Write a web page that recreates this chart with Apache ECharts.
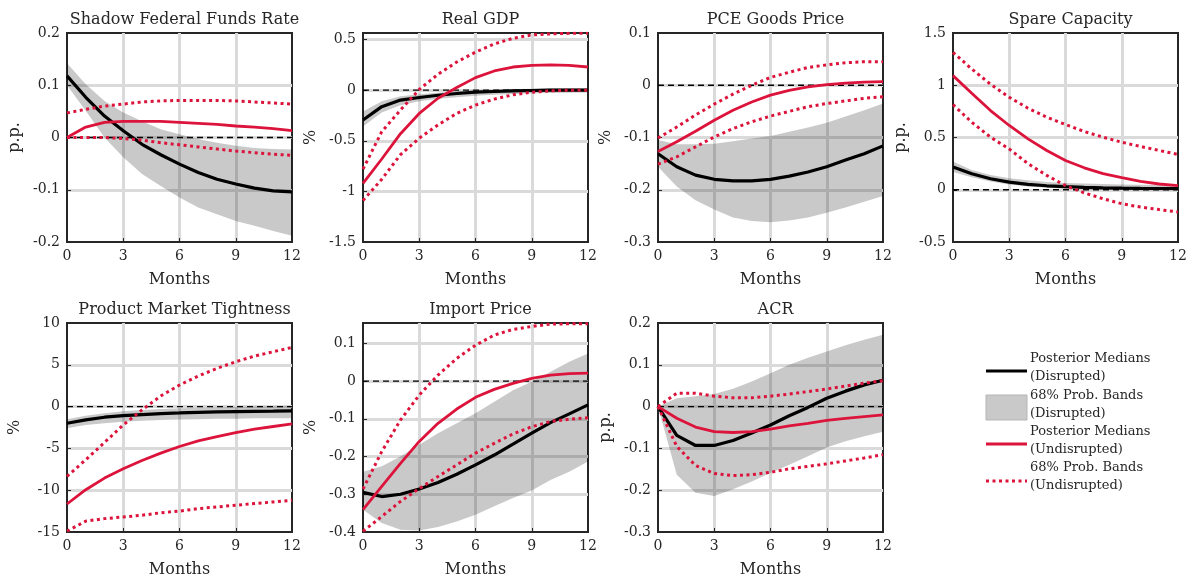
<!DOCTYPE html>
<html><head><meta charset="utf-8">
<script src="https://cdn.jsdelivr.net/npm/echarts@6/dist/echarts.min.js"></script>
<style>html,body{margin:0;padding:0;background:#fff}#c{width:1191px;height:582px}</style>
</head><body><div id="c"></div>
<script>
const months = [0,1,2,3,4,5,6,7,8,9,10,11,12];
const zeroLine = [0,0,0,0,0,0,0,0,0,0,0,0,0];

// Shadow Federal Funds Rate
const ffrDisMed = [0.118,0.077,0.041,0.013,-0.013,-0.033,-0.051,-0.067,-0.080,-0.089,-0.097,-0.102,-0.104];
const ffrDisHi  = [0.142,0.102,0.070,0.048,0.031,0.016,0.006,-0.003,-0.010,-0.016,-0.020,-0.022,-0.023];
const ffrDisLo  = [0.100,0.051,0.000,-0.038,-0.070,-0.093,-0.115,-0.134,-0.147,-0.160,-0.169,-0.179,-0.188];
const ffrUndMed = [0.000,0.020,0.029,0.031,0.031,0.031,0.029,0.027,0.025,0.022,0.020,0.017,0.013];
const ffrUndHi  = [0.047,0.054,0.060,0.064,0.068,0.070,0.071,0.071,0.071,0.070,0.068,0.066,0.064];
const ffrUndLo  = [0.000,0.000,0.000,-0.002,-0.005,-0.010,-0.014,-0.018,-0.022,-0.026,-0.029,-0.032,-0.034];

// Real GDP
const gdpDisMed = [-0.294,-0.163,-0.098,-0.072,-0.050,-0.033,-0.020,-0.013,-0.007,-0.003,0.000,0.000,0.000];
const gdpDisHi  = [-0.21,-0.11,-0.06,-0.04,-0.025,-0.01,0.0,0.005,0.010,0.015,0.018,0.020,0.020];
const gdpDisLo  = [-0.36,-0.22,-0.15,-0.11,-0.085,-0.07,-0.055,-0.045,-0.037,-0.030,-0.027,-0.025,-0.023];
const gdpUndMed = [-0.92,-0.68,-0.43,-0.23,-0.08,0.026,0.124,0.19,0.229,0.245,0.25,0.245,0.229];
const gdpUndHi  = [-0.78,-0.41,-0.196,0.007,0.157,0.278,0.376,0.457,0.513,0.546,0.556,0.562,0.562];
const gdpUndLo  = [-1.09,-0.88,-0.637,-0.474,-0.343,-0.229,-0.147,-0.088,-0.046,-0.020,-0.007,0.0,0.0];

// PCE Goods Price
const pceDisMed = [-0.131,-0.156,-0.172,-0.180,-0.183,-0.183,-0.180,-0.174,-0.166,-0.156,-0.143,-0.131,-0.116];
const pceDisHi  = [-0.105,-0.113,-0.113,-0.112,-0.107,-0.102,-0.097,-0.089,-0.081,-0.072,-0.060,-0.048,-0.035];
const pceDisLo  = [-0.156,-0.194,-0.220,-0.238,-0.253,-0.260,-0.262,-0.259,-0.253,-0.244,-0.234,-0.223,-0.212];
const pceUndMed = [-0.127,-0.108,-0.088,-0.067,-0.048,-0.032,-0.019,-0.010,-0.003,0.001,0.004,0.006,0.007];
const pceUndHi  = [-0.101,-0.080,-0.057,-0.036,-0.017,0.000,0.015,0.025,0.034,0.039,0.043,0.045,0.045];
const pceUndLo  = [-0.151,-0.137,-0.118,-0.099,-0.083,-0.070,-0.059,-0.050,-0.041,-0.035,-0.030,-0.025,-0.022];

// Spare Capacity
const spcDisMed = [0.217,0.153,0.105,0.073,0.051,0.038,0.029,0.022,0.018,0.015,0.013,0.012,0.012];
const spcDisHi  = [0.27,0.19,0.14,0.11,0.09,0.075,0.065,0.06,0.055,0.05,0.048,0.045,0.045];
const spcDisLo  = [0.17,0.12,0.08,0.05,0.03,0.02,0.01,0.005,0.0,-0.003,-0.005,-0.006,-0.007];
const spcUndMed = [1.092,0.924,0.758,0.615,0.487,0.376,0.280,0.21,0.155,0.115,0.08,0.055,0.04];
const spcUndHi  = [1.315,1.156,1.01,0.885,0.78,0.694,0.624,0.557,0.503,0.455,0.414,0.376,0.338];
const spcUndLo  = [0.815,0.646,0.503,0.39,0.25,0.137,0.04,-0.03,-0.086,-0.134,-0.166,-0.19,-0.213];

// Product Market Tightness
const pmtDisMed = [-1.99,-1.59,-1.27,-1.07,-0.95,-0.83,-0.76,-0.68,-0.64,-0.60,-0.56,-0.55,-0.52];
const pmtDisHi  = [-1.5,-1.1,-0.8,-0.55,-0.4,-0.3,-0.2,-0.15,-0.1,-0.05,0.0,0.05,0.1];
const pmtDisLo  = [-2.6,-2.2,-2.0,-1.8,-1.7,-1.6,-1.55,-1.5,-1.45,-1.45,-1.4,-1.4,-1.4];
const pmtUndMed = [-11.65,-9.94,-8.55,-7.43,-6.44,-5.56,-4.77,-4.09,-3.58,-3.10,-2.70,-2.38,-2.07];
const pmtUndHi  = [-8.35,-6.36,-4.29,-2.19,-0.40,1.27,2.58,3.66,4.57,5.37,6.04,6.56,7.08];
const pmtUndLo  = [-14.9,-13.7,-13.4,-13.2,-13.0,-12.7,-12.5,-12.2,-12.0,-11.8,-11.6,-11.4,-11.2];

// Import Price
const impDisMed = [-0.295,-0.306,-0.300,-0.286,-0.269,-0.247,-0.222,-0.196,-0.167,-0.138,-0.110,-0.087,-0.063];
const impDisHi  = [-0.24,-0.226,-0.200,-0.169,-0.138,-0.112,-0.085,-0.055,-0.024,-0.002,0.025,0.051,0.073];
const impDisLo  = [-0.341,-0.376,-0.394,-0.396,-0.387,-0.372,-0.354,-0.332,-0.310,-0.290,-0.262,-0.240,-0.213];
const impUndMed = [-0.341,-0.279,-0.218,-0.160,-0.112,-0.074,-0.043,-0.022,-0.006,0.007,0.016,0.020,0.021];
const impUndHi  = [-0.286,-0.187,-0.103,-0.037,0.016,0.060,0.095,0.122,0.137,0.145,0.151,0.152,0.152];
const impUndLo  = [-0.398,-0.359,-0.319,-0.285,-0.253,-0.222,-0.191,-0.165,-0.140,-0.121,-0.107,-0.101,-0.097];

// ACR
const acrDisMed = [0.0,-0.069,-0.093,-0.093,-0.081,-0.063,-0.044,-0.022,-0.002,0.020,0.037,0.052,0.063];
const acrDisHi  = [0.0,0.020,0.025,0.030,0.043,0.060,0.080,0.100,0.117,0.132,0.147,0.160,0.172];
const acrDisLo  = [0.0,-0.163,-0.206,-0.214,-0.198,-0.179,-0.159,-0.139,-0.119,-0.098,-0.083,-0.071,-0.060];
const acrUndMed = [0.0,-0.028,-0.049,-0.060,-0.062,-0.060,-0.054,-0.046,-0.040,-0.033,-0.028,-0.024,-0.020];
const acrUndHi  = [0.0,0.032,0.032,0.025,0.021,0.021,0.025,0.030,0.036,0.042,0.049,0.056,0.062];
const acrUndLo  = [0.0,-0.095,-0.141,-0.160,-0.165,-0.163,-0.157,-0.149,-0.143,-0.137,-0.130,-0.123,-0.115];

const titles = ['Shadow Federal Funds Rate','Real GDP','PCE Goods Price','Spare Capacity','Product Market Tightness','Import Price','ACR'];
const yNames = ['p.p.','%','%','p.p.','%','%','p.p.'];
const yMins = [-0.2,-1.5,-0.3,-0.5,-15,-0.4,-0.3];
const yMaxs = [0.2,0.565,0.1,1.5,10,0.154,0.2];
const yIntervals = [0.1,0.5,0.1,0.5,5,0.1,0.1];

const legendLabels = [['Posterior Medians','(Disrupted)'],['68% Prob. Bands','(Disrupted)'],['Posterior Medians','(Undisrupted)'],['68% Prob. Bands','(Undisrupted)']];

const panelData = [
  [ffrDisMed,ffrDisHi,ffrDisLo,ffrUndMed,ffrUndHi,ffrUndLo],
  [gdpDisMed,gdpDisHi,gdpDisLo,gdpUndMed,gdpUndHi,gdpUndLo],
  [pceDisMed,pceDisHi,pceDisLo,pceUndMed,pceUndHi,pceUndLo],
  [spcDisMed,spcDisHi,spcDisLo,spcUndMed,spcUndHi,spcUndLo],
  [pmtDisMed,pmtDisHi,pmtDisLo,pmtUndMed,pmtUndHi,pmtUndLo],
  [impDisMed,impDisHi,impDisLo,impUndMed,impUndHi,impUndLo],
  [acrDisMed,acrDisHi,acrDisLo,acrUndMed,acrUndHi,acrUndLo]
];

const FONT = 'DejaVu Serif';
const TXT = '#262626';
const RED = '#DC143C';
const BAND = 'rgba(0,0,0,0.21)';
const lefts = [67,363,658,953];
const tops = [33,323];
const W = 225, H = 209;

const grids=[], xAxes=[], yAxes=[], series=[], titleArr=[];
const pairs = arr => arr.map((v,i)=>[months[i], v]);
const fmt = (interval) => (v) => {
  const k = v/interval;
  if (Math.abs(k-Math.round(k))>1e-6) return '';
  const r = parseFloat(v.toFixed(3));
  return r===0 ? '0' : String(r);
};

panelData.forEach((pd,i)=>{
  const row = Math.floor(i/4), col = i%4;
  const L = lefts[col], T = tops[row];
  grids.push({left:L, top:T, width:W, height:H, show:true, borderColor:TXT, borderWidth:2, backgroundColor:'#fff', containLabel:false});
  titleArr.push({text:titles[i], left:L+W/2, top:T-26, textAlign:'center',
    textStyle:{fontFamily:FONT, fontSize:16, fontWeight:'normal', color:TXT}});
  xAxes.push({type:'value', gridIndex:i, min:0, max:12, interval:3,
    name:'Months', nameLocation:'middle', nameGap:30,
    nameTextStyle:{fontFamily:FONT, fontSize:16, color:TXT},
    axisLine:{show:true, onZero:false, lineStyle:{color:TXT, width:2}},
    axisTick:{show:true, inside:true, length:4, lineStyle:{color:TXT}},
    axisLabel:{fontFamily:FONT, fontSize:14, color:TXT, margin:7},
    splitLine:{show:true, showMinLine:false, showMaxLine:false, lineStyle:{color:'#dadada', width:3}}});
  yAxes.push({type:'value', gridIndex:i, min:yMins[i], max:yMaxs[i], interval:yIntervals[i],
    name:yNames[i], nameLocation:'middle', nameGap:44, nameRotate:90,
    nameTextStyle:{fontFamily:FONT, fontSize:16, color:TXT},
    axisLine:{show:true, onZero:false, lineStyle:{color:TXT, width:2}},
    axisTick:{show:true, inside:true, length:4, lineStyle:{color:TXT}},
    axisLabel:{fontFamily:FONT, fontSize:14, color:TXT, margin:7, formatter:fmt(yIntervals[i])},
    splitLine:{show:true, showMinLine:false, showMaxLine:false, lineStyle:{color:'#dadada', width:3}}});
  const [dMed,dHi,dLo,uMed,uHi,uLo] = pd;
  series.push({type:'custom', xAxisIndex:i, yAxisIndex:i, silent:true, z:1,
    data:[[months[0], dLo[0]]],
    renderItem:(params, api)=>{
      const up = dHi.map((v,j)=>api.coord([months[j], v]));
      const dn = dLo.map((v,j)=>api.coord([months[j], v])).reverse();
      return {type:'polygon', shape:{points:up.concat(dn)}, style:{fill:BAND}};
    }
  });
  series.push({type:'line', xAxisIndex:i, yAxisIndex:i, data:pairs(zeroLine), showSymbol:false, silent:true, z:2,
    lineStyle:{color:'#000', width:1.3, type:[6,4]}});
  series.push({type:'line', xAxisIndex:i, yAxisIndex:i, data:pairs(dMed), showSymbol:false, silent:true, z:3,
    lineStyle:{color:'#000', width:3.2}});
  series.push({type:'line', xAxisIndex:i, yAxisIndex:i, data:pairs(uMed), showSymbol:false, silent:true, z:3,
    lineStyle:{color:RED, width:2.8}});
  series.push({type:'line', xAxisIndex:i, yAxisIndex:i, data:pairs(uHi), showSymbol:false, silent:true, z:3,
    lineStyle:{color:RED, width:3, type:[3,3.5]}});
  series.push({type:'line', xAxisIndex:i, yAxisIndex:i, data:pairs(uLo), showSymbol:false, silent:true, z:3,
    lineStyle:{color:RED, width:3, type:[3,3.5]}});
});

// legend drawn as graphic
const lgX = 986, lgW = 41, txX = 1030;
const graphic = [
  {type:'line', shape:{x1:lgX, y1:371, x2:lgX+lgW, y2:371}, style:{stroke:'#000', lineWidth:3.2}},
  {type:'rect', shape:{x:lgX, y:395, width:lgW, height:25}, style:{fill:BAND, stroke:'#b5b5b5', lineWidth:1}},
  {type:'line', shape:{x1:lgX, y1:444, x2:lgX+lgW, y2:444}, style:{stroke:RED, lineWidth:2.8}},
  {type:'line', shape:{x1:lgX, y1:481, x2:lgX+lgW, y2:481}, style:{stroke:RED, lineWidth:3, lineDash:[3,3.5]}}
];
const lgY = [[359,377],[396,414],[432,450],[468,486]];
legendLabels.forEach((pair,k)=>{
  pair.forEach((t,m)=>{
    graphic.push({type:'text', x:txX, y:lgY[k][m], style:{text:t, fontFamily:FONT, fontSize:13, fill:TXT, verticalAlign:'middle', align:'left'}});
  });
});

const chart = echarts.init(document.getElementById('c'), null, {renderer:'canvas'});
chart.setOption({animation:false, backgroundColor:'#fff', title:titleArr, grid:grids, xAxis:xAxes, yAxis:yAxes, series:series, graphic:graphic});
</script></body></html>
